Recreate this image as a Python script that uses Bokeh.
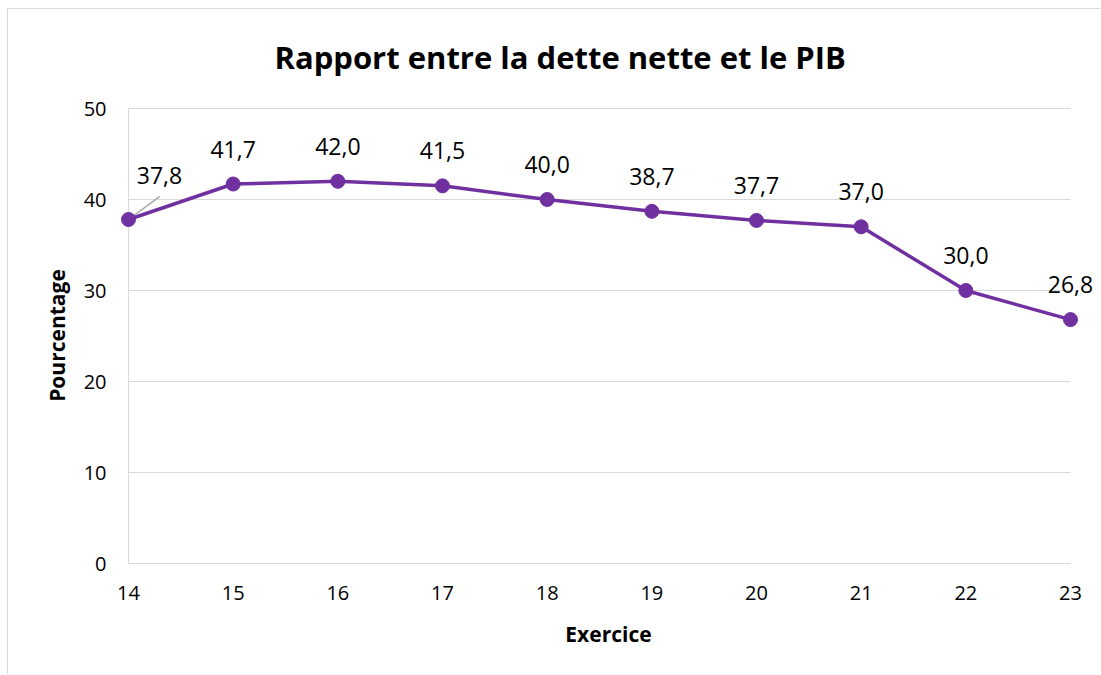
from bokeh.plotting import figure
from bokeh.models import Range1d, FixedTicker, ColumnDataSource, LabelSet
from bokeh.core.properties import value
from bokeh.embed import file_html
from bokeh.resources import INLINE
import math

# Data
years = [14, 15, 16, 17, 18, 19, 20, 21, 22, 23]
ratio = [37.8, 41.7, 42.0, 41.5, 40.0, 38.7, 37.7, 37.0, 30.0, 26.8]
y_ticks = [0, 10, 20, 30, 40, 50]

title_text = "Rapport entre la dette nette et le PIB"
x_label = "Exercice"
y_label = "Pourcentage"

PURPLE = "#7030a0"
GRID = "#d9d9d9"
FONT = "Open Sans"

# layout (pixels)
PLOT_W = 942          # distance between first and last category
PLOT_H = 455          # distance between 0 and 50
PAD_L = 8             # room so the end markers / labels are not clipped
PAD_R = 26
PAD_Y = 1
unit_x = PLOT_W / (years[-1] - years[0])
unit_y = PLOT_H / (y_ticks[-1] - y_ticks[0])

labels = [f"{v:.1f}".replace(".", ",") for v in ratio]
x_off = [31 if i == 0 else 0 for i in range(len(ratio))]
y_off = [44 if i == 0 else 35 for i in range(len(ratio))]

src = ColumnDataSource(dict(x=years, y=ratio, txt=labels, xo=x_off, yo=y_off))

# chart-area border (top and left edges visible) drawn as CSS background lines
border_css = (
    f"linear-gradient({GRID}, {GRID}) 7px 8px / 100% 1px no-repeat, "
    f"linear-gradient({GRID}, {GRID}) 7px 8px / 1px 100% no-repeat, white"
)

p = figure(
    width=1100, height=674,
    x_range=Range1d(years[0] - PAD_L / unit_x, years[-1] + PAD_R / unit_x),
    y_range=Range1d(y_ticks[0], y_ticks[-1] + PAD_Y / unit_y),
    output_backend="svg", toolbar_location=None,
    min_border_left=120, min_border_right=4,
    min_border_top=107, min_border_bottom=111,
    styles={"background": border_css},
)

p.outline_line_color = None
p.background_fill_color = "white"
p.border_fill_color = None

# Title
p.title.text = title_text
p.title.align = "left"
p.title.offset = 154
p.title.text_font = FONT
p.title.text_font_size = "31px"
p.title.text_font_style = "bold"
p.title.text_color = "black"
p.title.standoff = 60

# Grid lines and left axis line (drawn between first and last category only)
p.xgrid.grid_line_color = None
p.ygrid.grid_line_color = None
grid_levels = [t for t in y_ticks if t != y_ticks[0]]
p.segment(x0=[years[0]] * len(grid_levels), x1=[years[-1]] * len(grid_levels),
          y0=grid_levels, y1=grid_levels, line_color=GRID, line_width=1)
p.segment(x0=[years[0]], x1=[years[0]], y0=[y_ticks[0]], y1=[y_ticks[-1]],
          line_color=GRID, line_width=1)

# Axes
p.xaxis.ticker = FixedTicker(ticks=years)
p.yaxis.ticker = FixedTicker(ticks=y_ticks)
p.xaxis.bounds = (years[0], years[-1])
for ax in (p.xaxis, p.yaxis):
    ax.axis_line_color = GRID
    ax.axis_line_width = 1
    ax.major_tick_line_color = None
    ax.minor_tick_line_color = None
    ax.major_tick_out = 0
    ax.major_tick_in = 0
    ax.major_label_text_font = FONT
    ax.major_label_text_font_size = "20px"
    ax.major_label_text_color = "black"
    ax.axis_label_text_font = FONT
    ax.axis_label_text_font_size = "21px"
    ax.axis_label_text_font_style = "bold"
    ax.axis_label_text_color = "black"
p.yaxis.axis_line_color = None

p.xaxis.axis_label = x_label
p.yaxis.axis_label = y_label
p.xaxis.major_label_standoff = 22
p.yaxis.major_label_standoff = 22 - PAD_L
p.xaxis.axis_label_standoff = 17
p.yaxis.axis_label_standoff = 10

# Leader line for first label
p.ray(x=[years[0]], y=[ratio[0]], length=39, length_units="screen",
      angle=math.atan2(23, 31), line_color="#a6a6a6", line_width=1.5)

# Series
p.line("x", "y", source=src, line_color=PURPLE, line_width=3.5)
p.scatter("x", "y", source=src, size=14, fill_color=PURPLE, line_color=PURPLE)

p.add_layout(LabelSet(x="x", y="y", text="txt", source=src,
                      x_offset="xo", y_offset="yo",
                      text_align="center", text_baseline="middle",
                      text_font=value(FONT), text_font_size="23px",
                      text_color="black"))

open("out.html", "w").write(file_html(p, INLINE))
